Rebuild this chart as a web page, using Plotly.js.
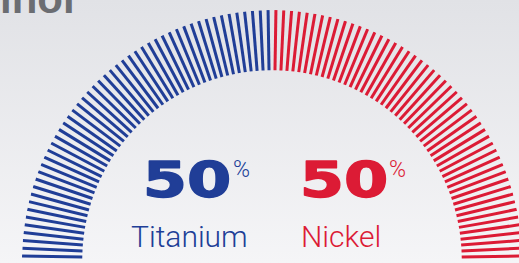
<!DOCTYPE html>
<html><head><meta charset="utf-8">
<script src="https://cdn.plot.ly/plotly-3.0.1.min.js"></script>
<style>
html,body{margin:0;padding:0;width:519px;height:263px;overflow:hidden;background:linear-gradient(#e1e2e6,#f5f5f7);}
#chart{width:544px;height:263px;}
</style></head><body><div id="chart"></div>
<script>
// ---- data ----
const titleText = 'Nitinol';
const categories = ['Titanium', 'Nickel'];
const shares = [50, 50];           // percent
const shareLabels = ['50', '50'];
const tickCount = 100;             // radial strokes across the half circle
const colors = ['#203e97', '#dc1b35'];

// ---- geometry / style ----
const rIn = 190.5, rOut = 251;
const M = {l: 21, r: 21, t: 9.5, b: 2.5};
const W = 544, H = 263;
const plotW = W - M.l - M.r, plotH = H - M.t - M.b;
const px = x => (x - M.l) / plotW;
const py = y => (H - M.b - y) / plotH;

const step = 180 / tickCount;
const traces = [];
let k = 0;
categories.forEach((c, i) => {
  const n = Math.round(shares[i] / 100 * tickCount);
  const r = [], th = [];
  for (let j = 0; j < n; j++, k++) {
    const a = 180 - (k + 0.5) * step;
    r.push(rIn, rOut, null); th.push(a, a, null);
  }
  traces.push({type: 'scatterpolar', mode: 'lines', r: r, theta: th, name: c,
    line: {color: colors[i], width: 3}, cliponaxis: false, hoverinfo: 'skip', connectgaps: false});
});

const numFont = {family: 'DejaVu Sans', size: 49, weight: 'bold'};
const lblFont = {family: 'Roboto, Liberation Sans, sans-serif', size: 30, weight: 300};
const pctFont = {family: 'Roboto, Liberation Sans, sans-serif', size: 23, weight: 300};
const groups = [
  {num: 186.5, pct: 241, lbl: 189},
  {num: 343.5, pct: 397, lbl: 341}
];
const annotations = [{
  text: '<b>' + titleText + '</b>', xref: 'paper', yref: 'paper', x: px(77), y: py(24),
  xanchor: 'right', yanchor: 'bottom', showarrow: false,
  font: {family: 'Liberation Sans, Arial, sans-serif', size: 42, color: '#6b6d72'}
}];
categories.forEach((c, i) => {
  const g = groups[i];
  annotations.push({text: shareLabels[i], x: px(g.num), y: py(180.5), xref: 'paper', yref: 'paper',
    xanchor: 'center', yanchor: 'middle', showarrow: false, font: Object.assign({color: colors[i]}, numFont)});
  annotations.push({text: '%', x: px(g.pct), y: py(170), xref: 'paper', yref: 'paper',
    xanchor: 'center', yanchor: 'middle', showarrow: false, font: Object.assign({color: colors[i]}, pctFont)});
  annotations.push({text: c, x: px(g.lbl), y: py(237), xref: 'paper', yref: 'paper',
    xanchor: 'center', yanchor: 'middle', showarrow: false, font: Object.assign({color: colors[i]}, lblFont)});
});

const layout = {
  width: W, height: H, margin: M, showlegend: false,
  paper_bgcolor: 'rgba(0,0,0,0)', plot_bgcolor: 'rgba(0,0,0,0)',
  polar: {
    domain: {x: [0, 1], y: [0, 1]}, sector: [0, 180], bgcolor: 'rgba(0,0,0,0)',
    radialaxis: {range: [0, rOut], visible: false, showgrid: false, showline: false, ticks: ''},
    angularaxis: {visible: false, showgrid: false, showline: false, ticks: '', rotation: 0, direction: 'counterclockwise'}
  },
  annotations: annotations
};
Plotly.newPlot('chart', traces, layout, {staticPlot: true, displayModeBar: false}).then(() => {
  document.querySelectorAll('.annotation-text').forEach(t => {
    if (shareLabels.indexOf(t.textContent) >= 0) {
      const fill = getComputedStyle(t).fill;
      t.style.transformBox = 'fill-box';
      t.style.transformOrigin = 'center';
      t.style.transform = 'scaleX(1.3)';
      t.style.stroke = fill;
      t.style.strokeWidth = '1.4px';
      t.style.strokeLinejoin = 'round';
    }
  });
});
</script></body></html>
